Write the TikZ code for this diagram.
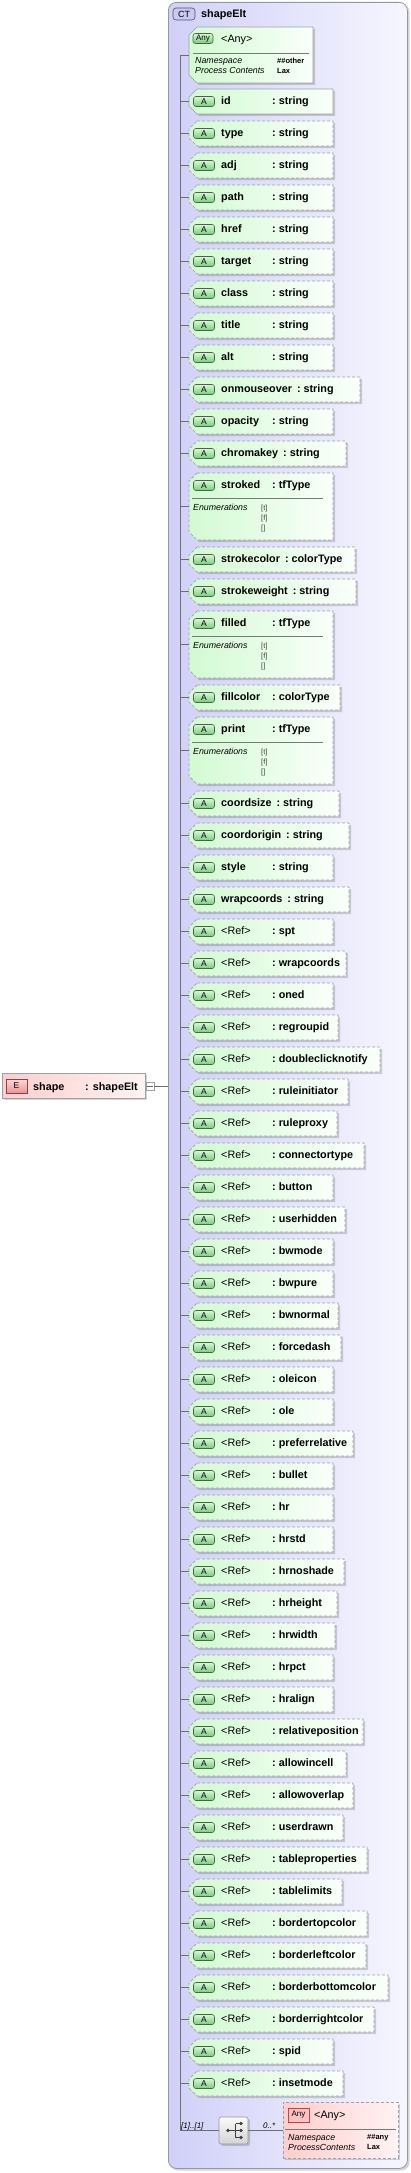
\documentclass[tikz,border=0pt]{standalone}
\usepackage{fontspec}
\setmainfont{Liberation Sans}
\definecolor{attrL}{RGB}{210,250,210}
\definecolor{attrR}{RGB}{250,255,250}
\definecolor{bordc}{RGB}{160,160,160}
\definecolor{divc}{RGB}{120,120,120}
\definecolor{ctL}{RGB}{208,208,248}
\definecolor{ctR}{RGB}{246,246,255}
\definecolor{ctB}{RGB}{150,150,165}
\definecolor{ctBadge}{RGB}{200,200,240}
\definecolor{ctBadgeD}{RGB}{80,80,110}
\definecolor{linec}{RGB}{110,110,110}
\definecolor{bgT}{RGB}{215,248,215}
\definecolor{bgB}{RGB}{120,205,120}
\definecolor{bgD}{RGB}{70,100,70}
\definecolor{pkL}{RGB}{255,205,205}
\definecolor{pkR}{RGB}{255,243,243}
\definecolor{pkD}{RGB}{190,70,70}
\definecolor{pkBadge}{RGB}{250,195,195}
\definecolor{elT}{RGB}{255,215,215}
\definecolor{elB}{RGB}{232,150,150}
\definecolor{elD}{RGB}{130,70,70}
\definecolor{seqT}{RGB}{250,250,250}
\definecolor{seqB}{RGB}{212,212,212}
\definecolor{seqD}{RGB}{150,150,150}
\tikzset{
  conn/.style={draw=linec, line width=0.7pt},
  abox/.style={draw=bordc, line width=0.7pt, left color=attrL, right color=attrR},
  dsh/.style={dash pattern=on 3pt off 2pt},
  sol/.style={solid},
  shad/.style={fill=black, opacity=0.16},
  abadge/.style={draw=bgD, line width=0.6pt, rounded corners=2.5pt, top color=bgT, bottom color=bgB,
    minimum width=21pt, minimum height=10pt, inner sep=0pt, font=\fontsize{8.5}{8.5}\selectfont},
  nm/.style={anchor=base west, inner sep=0pt, font=\fontsize{10.8}{12}\selectfont\bfseries},
  nmr/.style={anchor=base west, inner sep=0pt, font=\fontsize{10.8}{12}\selectfont},
  itl/.style={anchor=base west, inner sep=0pt, font=\fontsize{8.8}{10}\selectfont\itshape},
  sml/.style={anchor=base west, inner sep=0pt, font=\fontsize{7.5}{9}\selectfont\bfseries},
  env/.style={anchor=base west, inner sep=0pt, font=\fontsize{7.5}{9}\selectfont, text=black!75},
  hit/.style={inner sep=0pt, anchor=west},
}
\newcommand\nt[2]{\setbox0\hbox{#1}\ifdim\wd0<47pt\hbox to 51pt{\box0\hfil}\else\box0\hspace{5pt}\fi:\ #2}
\newcommand\arow[7]{%
  \pgfmathsetmacro\rowT{#2}\pgfmathsetmacro\rowB{#2+#3}%
  \pgfmathsetmacro\rowC{#2+#3/2}\pgfmathsetmacro\rowH{#2+12.5}%
  \fill[shad] (199,\rowT+2) -- (#4+2,\rowT+2) -- (#4+2,\rowB+2) -- (199,\rowB+2) -- (191,\rowB-6) -- (191,\rowT+10) -- cycle;
  \path[abox,#5] (197,\rowT) -- (#4,\rowT) -- (#4,\rowB) -- (197,\rowB) -- (189,\rowB-8) -- (189,\rowT+8) -- cycle;
  \node[hit, minimum width={#4-189}, minimum height=#3] (#1) at (189,\rowC) {};
  \draw[conn] (trunk |- #1.west) -- (#1.west);
  \node[abadge] (#1-b) at (204,\rowH) {A};
  \node[nm] (#1-t) at (221,\rowT+15.5) {\nt{#6}{#7}};
}
\newcommand\rrow[4]{\arow{#1}{#2}{25}{#3}{dsh}{\mdseries<Ref>}{#4}}
\newcommand\enums[3]{%
  \draw[draw=divc, line width=0.6pt] (192,#2+25) -- (#3-10,#2+25);
  \node[itl] (#1-e) at (193,#2+37) {Enumerations};
  \node[env] (#1-v1) at (261,#2+37) {[t]};
  \node[env] (#1-v2) at (261,#2+47) {[f]};
  \node[env] (#1-v3) at (261,#2+57.5) {[]};
}
\begin{document}
\begin{tikzpicture}[x=1pt,y=-1pt]
\useasboundingbox (0,0) rectangle (410,2173);
\fill[white] (0,0) rectangle (410,2173);
% complex type box
\fill[shad, rounded corners=8pt] (170,4) rectangle (409.5,2170.5);
\node[draw=ctB, line width=0.8pt, rounded corners=8pt, left color=ctL, right color=ctR,
  minimum width=239pt, minimum height=2166pt, inner sep=0pt, anchor=north west] (ct) at (168,2) {};
\node[draw=ctBadgeD, line width=0.6pt, fill=ctBadge, rounded corners=3pt, minimum width=22pt, minimum height=12pt,
  inner sep=0pt, font=\fontsize{9}{9}\selectfont] (ctb) at (184,14) {CT};
\node[nm] (ctn) at (201,18) {shapeElt};
\coordinate (trunk) at (180,55);
% top any
\fill[shad] (199,29) -- (315,29) -- (315,85) -- (199,85) -- (191,77) -- (191,37) -- cycle;
\path[abox] (197,27) -- (313,27) -- (313,83) -- (197,83) -- (189,75) -- (189,35) -- cycle;
\node[hit, minimum width=124pt, minimum height=56pt] (anyT) at (189,55) {};
\draw[conn] (trunk) -- (anyT.west);
\node[abadge, minimum width=20pt, font=\fontsize{8}{8}\selectfont] (anyT-b) at (203,38.5) {Any};
\node[nmr] (anyT-t) at (221,42.5) {<Any>};
\draw[draw=divc, line width=0.6pt] (193,53) -- (309,53);
\node[itl] (anyT-n1) at (195,64) {Namespace};
\node[itl] (anyT-n2) at (195,74) {Process Contents};
\node[sml] (anyT-v1) at (277,63.5) {\#\#other};
\node[sml] (anyT-v2) at (277,73.5) {Lax};
% attributes
\arow{aid}{89}{25}{333}{sol}{id}{string}
\arow{atype}{121}{25}{333}{dsh}{type}{string}
\arow{aadj}{153}{25}{333}{dsh}{adj}{string}
\arow{apath}{185}{25}{333}{dsh}{path}{string}
\arow{ahref}{217}{25}{333}{dsh}{href}{string}
\arow{atarget}{249}{25}{333}{dsh}{target}{string}
\arow{aclass}{281}{25}{333}{dsh}{class}{string}
\arow{atitle}{313}{25}{333}{dsh}{title}{string}
\arow{aalt}{345}{25}{333}{dsh}{alt}{string}
\arow{aonmo}{377}{25}{360}{dsh}{onmouseover}{string}
\arow{aopac}{409}{25}{333}{dsh}{opacity}{string}
\arow{achrom}{441}{25}{346}{dsh}{chromakey}{string}
\arow{astroked}{473}{67}{333}{dsh}{stroked}{tfType}
\enums{astroked}{473}{333}
\arow{astrokec}{547}{25}{355}{dsh}{strokecolor}{colorType}
\arow{astrokew}{579}{25}{356}{dsh}{strokeweight}{string}
\arow{afilled}{611}{67}{333}{dsh}{filled}{tfType}
\enums{afilled}{611}{333}
\arow{afillc}{685}{25}{340}{dsh}{fillcolor}{colorType}
\arow{aprint}{717}{67}{333}{dsh}{print}{tfType}
\enums{aprint}{717}{333}
\arow{acsize}{791}{25}{339}{dsh}{coordsize}{string}
\arow{acorig}{823}{25}{349}{dsh}{coordorigin}{string}
\arow{astyle}{855}{25}{333}{dsh}{style}{string}
\arow{awrap}{887}{25}{349}{dsh}{wrapcoords}{string}
\rrow{r1}{919}{333}{spt}
\rrow{r2}{951}{346}{wrapcoords}
\rrow{r3}{983}{333}{oned}
\rrow{r4}{1015}{338}{regroupid}
\rrow{r5}{1047}{380}{doubleclicknotify}
\rrow{r6}{1079}{348}{ruleinitiator}
\rrow{r7}{1111}{337}{ruleproxy}
\rrow{r8}{1143}{364}{connectortype}
\rrow{r9}{1175}{333}{button}
\rrow{r10}{1207}{345}{userhidden}
\rrow{r11}{1239}{333}{bwmode}
\rrow{r12}{1271}{333}{bwpure}
\rrow{r13}{1303}{338}{bwnormal}
\rrow{r14}{1335}{341}{forcedash}
\rrow{r15}{1367}{333}{oleicon}
\rrow{r16}{1399}{333}{ole}
\rrow{r17}{1431}{353}{preferrelative}
\rrow{r18}{1463}{333}{bullet}
\rrow{r19}{1495}{333}{hr}
\rrow{r20}{1527}{333}{hrstd}
\rrow{r21}{1559}{344}{hrnoshade}
\rrow{r22}{1591}{337}{hrheight}
\rrow{r23}{1623}{335}{hrwidth}
\rrow{r24}{1655}{333}{hrpct}
\rrow{r25}{1687}{333}{hralign}
\rrow{r26}{1719}{363}{relativeposition}
\rrow{r27}{1751}{346}{allowincell}
\rrow{r28}{1783}{353}{allowoverlap}
\rrow{r29}{1815}{343}{userdrawn}
\rrow{r30}{1847}{367}{tableproperties}
\rrow{r31}{1879}{342}{tablelimits}
\rrow{r32}{1911}{367}{bordertopcolor}
\rrow{r33}{1943}{366}{borderleftcolor}
\rrow{r34}{1975}{388}{borderbottomcolor}
\rrow{r35}{2007}{374}{borderrightcolor}
\rrow{r36}{2039}{333}{spid}
\rrow{r37}{2071}{343}{insetmode}
% sequence
\fill[shad, rounded corners=2pt] (221,2119) rectangle (250,2146);
\node[draw=seqD, line width=0.6pt, rounded corners=2pt, top color=seqT, bottom color=seqB,
  minimum width=29pt, minimum height=27pt, inner sep=0pt] (seq) at (233.5,2130.5) {};
\draw[conn] (trunk) |- (seq.west);
\fill[black!75] (228,2130.5) circle (1.8pt);
\draw[black!75, line width=0.8pt] (228,2130.5) -- (235.5,2130.5) (235.5,2123.5) -- (235.5,2137.5)
  (235.5,2123.5) -- (241,2123.5) (235.5,2130.5) -- (241,2130.5) (235.5,2137.5) -- (241,2137.5);
\fill[black!75] (241,2123.5) circle (1.8pt) (241,2130.5) circle (1.8pt) (241,2137.5) circle (1.8pt);
\node[itl, font=\fontsize{8}{9}\selectfont\itshape] (seqm) at (181,2128) {[1]..[1]};
% bottom any
\fill[shad] (285,2104) rectangle (400,2160);
\node[draw=bordc, line width=0.7pt, dsh, left color=pkL, right color=pkR, minimum width=115pt, minimum height=56pt,
  inner sep=0pt, anchor=north west] (anyB) at (283,2102) {};
\draw[conn] (seq.east) -- (anyB.west |- seq.east);
\node[itl, font=\fontsize{8}{9}\selectfont\itshape] (anyBm) at (263,2128) {0..*};
\node[draw=pkD, line width=0.6pt, fill=pkBadge, minimum width=21pt, minimum height=14pt, inner sep=0pt,
  font=\fontsize{8}{8}\selectfont] (anyB-b) at (298.5,2115) {Any};
\node[nmr] (anyB-t) at (314,2118.5) {<Any>};
\draw[draw=divc, line width=0.6pt] (285,2129) -- (396,2129);
\node[itl] (anyB-n1) at (288,2140) {Namespace};
\node[itl] (anyB-n2) at (288,2150) {ProcessContents};
\node[sml] (anyB-v1) at (367,2139.5) {\#\#any};
\node[sml] (anyB-v2) at (367,2149.5) {Lax};
% element
\fill[shad] (4,1075) rectangle (147,1100);
\node[draw=bordc, line width=0.7pt, left color=pkL, right color=pkR, minimum width=143pt, minimum height=25pt,
  inner sep=0pt, anchor=north west] (shape) at (2,1073) {};
\node[draw=elD, line width=0.6pt, top color=elT, bottom color=elB, minimum width=21pt, minimum height=14pt,
  inner sep=0pt, font=\fontsize{8.5}{8.5}\selectfont] (shape-b) at (16.5,1086) {E};
\node[nm] (shape-t) at (33,1090) {\hbox to 52pt{shape\hfil}: shapeElt};
\node[draw=bordc, line width=0.6pt, fill=white, minimum size=8pt, inner sep=0pt] (shape-c) at (150,1086) {};
\draw[black!60, line width=0.6pt] ([xshift=1.5pt]shape-c.west) -- ([xshift=-1.5pt]shape-c.east);
\draw[conn] (shape-c.east) -- (shape-c.east -| ct.west);
\end{tikzpicture}
\end{document}
